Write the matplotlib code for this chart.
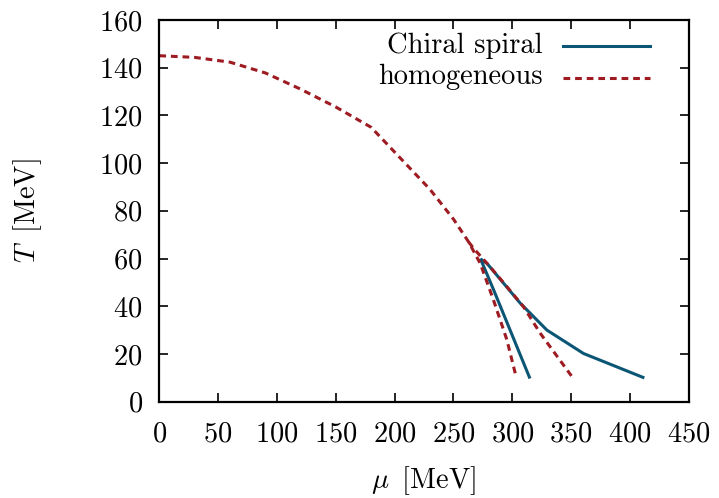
import matplotlib
matplotlib.use("Agg")
import matplotlib.pyplot as plt
from matplotlib.lines import Line2D

plt.rcParams['font.family'] = ['cmr10', 'DejaVu Serif']
plt.rcParams['mathtext.fontset'] = 'cm'
plt.rcParams['axes.formatter.use_mathtext'] = True

# Chiral spiral (one continuous line)
spiral_mu = [314.5, 284, 273, 278.4, 306.7, 329.4, 360.5, 411]
spiral_T = [10.3, 47, 59.8, 58, 41.3, 30, 20.2, 10.2]

# homogeneous: main branch down to left end
hom_mu = [0, 30, 60, 90, 120, 150, 180, 205, 230, 250, 262.8, 272.7, 284, 295.4, 303.3]
hom_T = [145, 144.3, 142.3, 137.8, 131, 123.5, 115, 102, 89, 76.5, 67, 58, 42.6, 25.9, 10.3]
# homogeneous: second branch
hom2_mu = [262.8, 267, 281, 295.4, 309.5, 323.7, 351]
hom2_T = [67, 64.3, 56.6, 48.2, 39.8, 28.7, 10.3]

xticks = [0, 50, 100, 150, 200, 250, 300, 350, 400, 450]
yticks = [0, 20, 40, 60, 80, 100, 120, 140, 160]

blue = '#0b5674'
red = '#9e1b22'

fig = plt.figure(figsize=(7.19, 4.98), dpi=100)
ax = fig.add_axes([0.2216, 0.1934, 0.958 - 0.2216, 0.96 - 0.1934])

ax.plot(spiral_mu, spiral_T, color=blue, lw=2.2, solid_joinstyle='miter')
ax.plot(hom_mu, hom_T, color=red, lw=2.2, ls=(0, (2.2, 1.6)))
ax.plot(hom2_mu, hom2_T, color=red, lw=2.2, ls=(0, (2.2, 1.6)))

ax.set_xlim(0, 450)
ax.set_ylim(0, 160)
ax.set_xticks(xticks)
ax.set_yticks(yticks)
ax.tick_params(direction='in', length=6.5, width=1.2, top=True, right=True,
               labelsize=20.5)
ax.tick_params(axis='x', pad=14)
ax.tick_params(axis='y', pad=12)
for s in ax.spines.values():
    s.set_linewidth(1.6)

ax.set_xlabel(r'$\mu\,$ [MeV]', fontsize=20.5, labelpad=12)
ax.set_ylabel(r'$T\,$ [MeV]', fontsize=20.5, labelpad=40)

# legend drawn manually (right-aligned text, sample to the right)
fig.text(543 / 719, 1 - 46 / 498, 'Chiral spiral', ha='right', va='center', fontsize=20.5)
fig.text(543 / 719, 1 - 77 / 498, 'homogeneous', ha='right', va='center', fontsize=20.5)
fig.add_artist(Line2D([563 / 719, 650 / 719], [1 - 46 / 498, 1 - 46 / 498], color=blue, lw=2.2))
fig.add_artist(Line2D([563 / 719, 650 / 719], [1 - 78 / 498, 1 - 78 / 498], color=red, lw=2.2,
                      ls=(0, (2.2, 1.6))))

fig.savefig('out.png', dpi=100)
